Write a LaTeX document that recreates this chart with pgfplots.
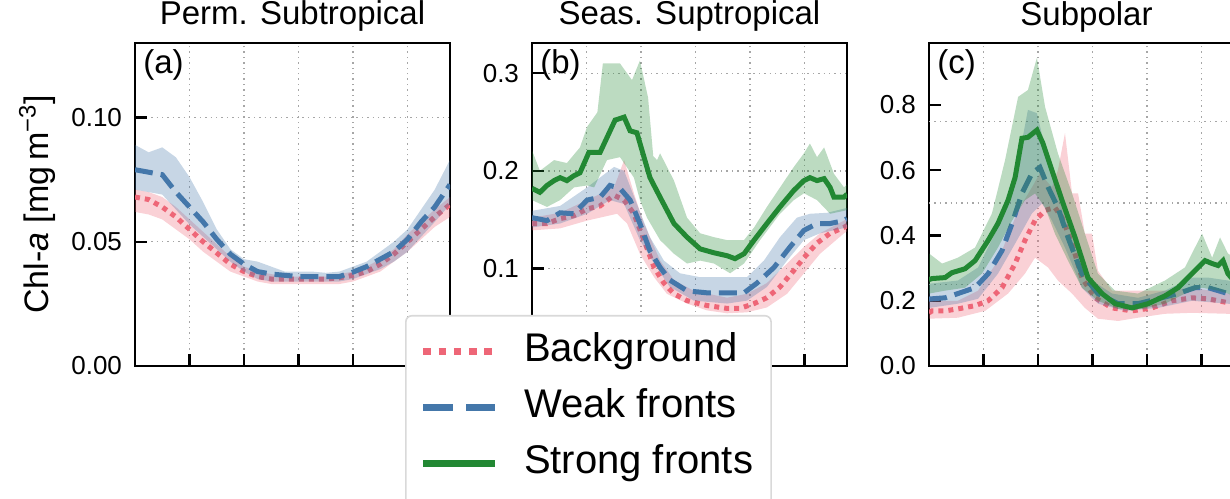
\documentclass[border=0pt]{standalone}
\usepackage{fontspec}
\setmainfont{Liberation Sans}
\usepackage{pgfplots}
\pgfplotsset{compat=1.18}
\usepackage{pgfplotstable}

\definecolor{bgred}{HTML}{EE6677}
\definecolor{wkblue}{HTML}{4477AA}
\definecolor{stgreen}{HTML}{228833}

% panel (a): month, background mean, weak fronts mean
\pgfplotstableread{
x     rm     bm
0     0.068  0.079
0.5   0.067  0.078
1     0.064  0.077
1.5   0.060  0.070
2     0.055  0.064
2.5   0.050  0.058
3     0.0455 0.051
3.5   0.041  0.045
4     0.038  0.041
4.5   0.036  0.038
5     0.035  0.037
5.5   0.035  0.0365
6     0.035  0.036
6.5   0.035  0.036
7     0.035  0.036
7.5   0.0355 0.036
8     0.0365 0.0378
8.5   0.038  0.040
9     0.041  0.043
9.5   0.045  0.046
10    0.050  0.051
10.5  0.055  0.058
11    0.060  0.064
11.56 0.065  0.073
}\permsub

\pgfplotsset{
  panel/.style={
    scale only axis, width=157.5pt, height=161.5pt,
    anchor=south west,
    xmin=0, xmax=11.56,
    xtick={2,4,6,8,10}, xticklabels={},
    xmajorgrids,
    tick align=inside, xtick pos=left, ytick pos=left,
    major tick length=6pt,
    major tick style={black, line width=1.2pt},
    axis line style={line width=1.3pt},
    grid style={black!35, line width=0.7pt, dash pattern=on 0.7pt off 2pt},
    tick label style={font=\fontsize{13}{15}\selectfont},
    /pgf/number format/assume math mode=true,
    /pgf/number format/fixed, /pgf/number format/fixed zerofill,
    yticklabel style={xshift=-3pt},
    title style={at={(axis description cs:0.5,1)}, anchor=base, yshift=3pt,
      font=\fontsize{16.5}{19}\selectfont},
  },
  band/.style={draw=none, fill=#1, fill opacity=0.3, forget plot},
  bgline/.style={bgred, line width=2.5pt, dash pattern=on 2.5pt off 2.5pt},
  wkline/.style={wkblue, line width=2.5pt, dash pattern=on 9pt off 4pt},
  stline/.style={stgreen, line width=2.5pt},
}
\tikzset{plabel/.style={anchor=base west, inner sep=0pt, font=\fontsize{16.5}{19}\selectfont}}

\begin{document}
\begin{tikzpicture}
\begin{scope}
\clip (0,0) rectangle (615pt,249pt);

% (a)
\begin{axis}[panel, at={(67.5pt,66pt)},
  title={Perm. Subtropical},
  ymin=0, ymax=0.130, ytick={0,0.05,0.10}, ymajorgrids,
  /pgf/number format/precision=2,
  ylabel={Chl-\textit{a} [mg\,m\textsuperscript{−3}]},
  ylabel style={at={(axis description cs:-0.311,0.5)}, anchor=center,
    font=\fontsize{17}{20}\selectfont},
]
% band polygons: upper edge forward, lower edge back
\addplot[band=bgred] coordinates {(0,0.071)(0.5,0.070)(1,0.068)(1.5,0.064)(2,0.059)(2.5,0.054)(3,0.049)(3.5,0.044)(4,0.040)(4.5,0.038)(5,0.037)(5.5,0.036)(6,0.036)(6.5,0.036)(7,0.036)(7.5,0.037)(8,0.038)(8.5,0.040)(9,0.043)(9.5,0.047)(10,0.053)(10.5,0.058)(11,0.063)(11.56,0.068)
  (11.56,0.060)(11,0.056)(10.5,0.051)(10,0.046)(9.5,0.042)(9,0.038)(8.5,0.036)(8,0.034)(7.5,0.033)(7,0.033)(6.5,0.033)(6,0.033)(5.5,0.033)(5,0.033)(4.5,0.034)(4,0.036)(3.5,0.038)(3,0.042)(2.5,0.046)(2,0.051)(1.5,0.055)(1,0.059)(0.5,0.061)(0,0.062)};
\addplot[bgline] table[x=x,y=rm] {\permsub};
\addplot[band=wkblue] coordinates {(0,0.089)(0.5,0.086)(1,0.088)(1.5,0.084)(2,0.076)(2.5,0.066)(3,0.055)(3.5,0.047)(4,0.043)(4.5,0.042)(5,0.040)(5.5,0.038)(6,0.038)(6.5,0.038)(7,0.0375)(7.5,0.038)(8,0.040)(8.5,0.042)(9,0.046)(9.5,0.050)(10,0.055)(10.5,0.063)(11,0.071)(11.56,0.083)
  (11.56,0.065)(11,0.058)(10.5,0.052)(10,0.046)(9.5,0.042)(9,0.039)(8.5,0.037)(8,0.035)(7.5,0.034)(7,0.034)(6.5,0.034)(6,0.034)(5.5,0.034)(5,0.034)(4.5,0.035)(4,0.038)(3.5,0.042)(3,0.047)(2.5,0.052)(2,0.057)(1.5,0.063)(1,0.069)(0.5,0.070)(0,0.071)};
\addplot[wkline] table[x=x,y=bm] {\permsub};
\node[plabel] at (rel axis cs:0.025,0.907) {(a)};
\end{axis}

% (b)
\begin{axis}[panel, at={(266pt,66pt)},
  title={Seas. Suptropical},
  ymin=0, ymax=0.331, ytick={0.1,0.2,0.3}, ymajorgrids,
  /pgf/number format/precision=1,
  legend cell align=left,
  legend image code/.code={\draw[#1] (0pt,0pt) -- (36pt,0pt);},
  legend style={at={(axis description cs:-0.403,0.158)}, anchor=north west,
    font=\fontsize{20}{24}\selectfont, draw=black!15, line width=0.8pt,
    rounded corners=3pt, fill=white, row sep=6pt, column sep=10.5pt,
    inner xsep=7pt, inner ysep=7pt,
    nodes={inner sep=2pt, text height=14pt, text depth=4pt}},
]
\addplot[band=bgred] coordinates {(0,0.152)(1.03,0.157)(2.02,0.170)(3.01,0.183)(3.38,0.211)(3.74,0.177)(4.11,0.146)(4.70,0.108)(5.21,0.088)(5.94,0.077)(7.16,0.070)(7.89,0.074)(8.62,0.085)(9.36,0.105)(9.98,0.122)(10.57,0.136)(11.45,0.149)(11.56,0.151)
  (11.56,0.138)(11.45,0.136)(10.57,0.115)(9.98,0.095)(9.36,0.074)(8.62,0.060)(7.89,0.055)(7.16,0.054)(6.42,0.057)(5.69,0.064)(4.95,0.074)(4.48,0.091)(3.96,0.115)(3.49,0.146)(3.12,0.156)(2.02,0.149)(1.03,0.141)(0,0.139)};
\addplot[bgline, legend image post style={line width=3.6pt, dash pattern=on 3.8pt off 3.8pt}] coordinates {(0,0.146)(0.55,0.146)(1.03,0.151)(1.54,0.154)(2.02,0.161)(2.50,0.164)(3.01,0.175)(3.38,0.170)(3.74,0.156)(4.11,0.129)(4.48,0.101)(4.84,0.085)(5.21,0.074)(5.69,0.067)(6.42,0.062)(7.16,0.059)(7.63,0.059)(8.15,0.064)(8.62,0.070)(9.10,0.081)(9.61,0.098)(9.98,0.111)(10.46,0.126)(10.94,0.136)(11.45,0.142)(11.56,0.144)};
\addlegendentry{Background}
\addplot[band=wkblue] coordinates {(0,0.159)(1.03,0.164)(2.02,0.183)(3.01,0.204)(3.38,0.200)(3.85,0.166)(4.33,0.132)(4.84,0.108)(5.43,0.095)(6.17,0.091)(7.16,0.091)(7.89,0.091)(8.51,0.108)(9.10,0.132)(9.72,0.152)(10.20,0.156)(10.83,0.157)(11.56,0.162)
  (11.56,0.142)(10.57,0.136)(9.98,0.129)(9.36,0.108)(8.62,0.081)(7.89,0.067)(7.16,0.064)(5.94,0.067)(5.06,0.081)(4.48,0.105)(3.96,0.129)(3.38,0.166)(2.86,0.170)(2.02,0.156)(1.03,0.146)(0,0.142)};
\addplot[wkline, legend image post style={line width=3.6pt, dash pattern=on 15pt off 6.5pt}] coordinates {(0,0.152)(0.55,0.149)(1.03,0.157)(1.54,0.156)(2.02,0.170)(2.50,0.173)(2.86,0.185)(3.23,0.182)(3.60,0.170)(3.96,0.146)(4.33,0.118)(4.70,0.101)(5.06,0.088)(5.69,0.077)(6.42,0.075)(7.16,0.075)(7.78,0.075)(8.26,0.085)(8.88,0.101)(9.47,0.122)(9.98,0.139)(10.46,0.146)(10.94,0.146)(11.45,0.149)(11.56,0.151)};
\addlegendentry{Weak fronts}
\addplot[band=stgreen] coordinates {(0,0.221)(0.29,0.200)(0.81,0.211)(1.28,0.208)(1.76,0.224)(2.02,0.245)(2.40,0.260)(2.60,0.310)(3.23,0.310)(3.67,0.293)(3.96,0.313)(4.26,0.275)(4.45,0.215)(4.59,0.211)(4.70,0.218)(5.21,0.190)(5.69,0.152)(6.17,0.136)(6.68,0.132)(7.16,0.129)(7.78,0.129)(8.15,0.142)(8.62,0.163)(9.61,0.204)(9.98,0.218)(10.20,0.228)(10.46,0.214)(10.72,0.224)(11.08,0.197)(11.45,0.183)(11.56,0.186)
  (11.56,0.160)(11.45,0.159)(10.94,0.156)(10.46,0.170)(9.98,0.177)(9.61,0.170)(9.10,0.156)(8.37,0.129)(7.78,0.105)(7.27,0.095)(6.68,0.105)(6.17,0.108)(5.69,0.105)(5.21,0.115)(4.70,0.129)(4.22,0.152)(3.96,0.170)(3.74,0.193)(3.23,0.214)(2.75,0.211)(2.28,0.183)(2.02,0.185)(1.54,0.183)(1.03,0.170)(0.55,0.163)(0,0.170)};
\addplot[stline, legend image post style={line width=3.6pt}] coordinates {(0,0.182)(0.29,0.178)(0.55,0.185)(0.81,0.190)(1.03,0.193)(1.28,0.190)(1.54,0.195)(1.76,0.198)(2.09,0.219)(2.50,0.219)(2.75,0.234)(3.05,0.252)(3.38,0.255)(3.60,0.241)(3.85,0.239)(4.11,0.214)(4.33,0.193)(4.70,0.173)(5.21,0.146)(5.69,0.132)(6.17,0.120)(6.68,0.116)(7.16,0.113)(7.45,0.110)(7.78,0.115)(8.15,0.129)(8.62,0.146)(9.10,0.163)(9.61,0.180)(9.98,0.190)(10.20,0.193)(10.46,0.190)(10.72,0.192)(10.94,0.183)(11.08,0.173)(11.45,0.173)(11.56,0.176)};
\addlegendentry{Strong fronts}
\addlegendimage{empty legend}
\addlegendentry{}
\node[plabel] at (rel axis cs:0.025,0.907) {(b)};
\end{axis}

% (c)
\begin{axis}[panel, at={(464.5pt,66pt)},
  title={Subpolar},
  ymin=0, ymax=0.99, ytick={0,0.2,0.4,0.6,0.8},
  /pgf/number format/precision=1,
  extra y ticks={0.25,0.5,0.75}, extra y tick labels={},
  extra y tick style={major tick length=0pt, ymajorgrids},
]
\addplot[band=bgred] coordinates {(0,0.200)(1.06,0.200)(1.80,0.231)(2.53,0.323)(3.27,0.477)(3.78,0.548)(4.07,0.591)(4.51,0.548)(4.73,0.600)(4.99,0.714)(5.25,0.529)(5.47,0.529)(5.72,0.406)(5.98,0.406)(6.20,0.292)(6.72,0.231)(7.67,0.231)(8.66,0.231)(9.65,0.240)(10.97,0.222)(11.56,0.215)
  (11.56,0.158)(10.97,0.160)(9.65,0.163)(8.66,0.160)(7.67,0.148)(6.94,0.138)(6.20,0.145)(5.72,0.178)(5.25,0.222)(4.73,0.262)(4.37,0.302)(3.89,0.332)(3.52,0.283)(2.90,0.222)(2.06,0.169)(1.06,0.148)(0,0.145)};
\addplot[bgline] coordinates {(0,0.163)(0.11,0.169)(0.59,0.169)(1.06,0.175)(1.69,0.185)(2.17,0.200)(2.68,0.240)(3.16,0.314)(3.52,0.385)(3.89,0.446)(4.26,0.477)(4.62,0.486)(4.88,0.455)(5.25,0.375)(5.61,0.271)(6.09,0.209)(6.72,0.178)(7.45,0.169)(8.18,0.178)(8.92,0.200)(9.65,0.209)(10.24,0.206)(10.97,0.194)(11.56,0.185)};
\addplot[band=wkblue] coordinates {(0,0.252)(1.06,0.262)(1.80,0.302)(2.53,0.425)(3.16,0.578)(3.63,0.785)(3.96,0.775)(4.37,0.631)(4.88,0.508)(5.36,0.385)(5.98,0.262)(6.72,0.222)(7.67,0.209)(8.66,0.231)(9.65,0.271)(10.24,0.271)(10.97,0.262)(11.56,0.250)
  (11.56,0.185)(10.97,0.191)(9.65,0.200)(8.40,0.178)(7.19,0.169)(6.20,0.191)(5.61,0.240)(4.99,0.363)(4.51,0.446)(4.15,0.498)(3.78,0.468)(3.16,0.375)(2.53,0.283)(1.80,0.206)(1.06,0.191)(0,0.178)};
\addplot[wkline] coordinates {(0,0.205)(0.11,0.206)(0.59,0.209)(1.06,0.222)(1.69,0.240)(2.17,0.283)(2.68,0.354)(3.05,0.437)(3.41,0.529)(3.78,0.591)(4.07,0.609)(4.37,0.548)(4.73,0.486)(5.10,0.394)(5.61,0.283)(6.20,0.222)(6.94,0.191)(7.67,0.191)(8.40,0.206)(9.14,0.222)(9.76,0.240)(10.24,0.240)(10.61,0.231)(10.97,0.222)(11.56,0.210)};
\addplot[band=stgreen] coordinates {(0,0.345)(0.48,0.314)(1.06,0.332)(1.69,0.363)(2.31,0.468)(2.79,0.631)(3.27,0.825)(3.63,0.846)(3.96,0.945)(4.26,0.794)(4.73,0.652)(5.25,0.529)(5.72,0.406)(6.20,0.283)(6.83,0.231)(7.67,0.222)(8.66,0.262)(9.39,0.302)(10.02,0.406)(10.39,0.332)(10.68,0.394)(10.97,0.345)(11.56,0.310)
  (11.56,0.200)(10.97,0.222)(10.61,0.231)(10.02,0.240)(9.39,0.222)(8.66,0.191)(7.82,0.175)(6.94,0.175)(6.20,0.200)(5.61,0.240)(5.10,0.323)(4.62,0.406)(4.26,0.486)(3.89,0.529)(3.52,0.508)(3.05,0.446)(2.53,0.363)(1.94,0.283)(1.32,0.240)(0.59,0.231)(0,0.222)};
\addplot[stline] coordinates {(0,0.265)(0.11,0.268)(0.59,0.271)(0.84,0.286)(1.32,0.298)(1.69,0.323)(2.17,0.385)(2.53,0.437)(2.90,0.508)(3.16,0.578)(3.41,0.698)(3.63,0.701)(3.96,0.723)(4.18,0.683)(4.51,0.600)(4.88,0.508)(5.36,0.394)(5.83,0.271)(6.35,0.222)(6.83,0.191)(7.45,0.178)(8.04,0.191)(8.66,0.215)(9.14,0.240)(9.65,0.283)(10.13,0.323)(10.39,0.314)(10.61,0.308)(10.79,0.323)(10.97,0.283)(11.20,0.260)(11.56,0.240)};
\node[plabel] at (rel axis cs:0.025,0.907) {(c)};
\end{axis}
\end{scope}
\pgfresetboundingbox
\path[use as bounding box] (0,0) rectangle (615pt,249pt);
\end{tikzpicture}
\end{document}
